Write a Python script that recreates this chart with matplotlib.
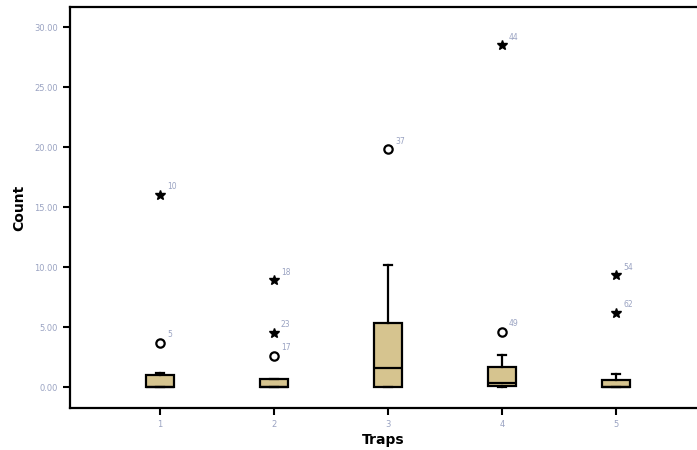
import matplotlib.pyplot as plt

traps = [1, 2, 3, 4, 5]
tick_labels = ["1", "2", "3", "4", "5"]

# box statistics
whis_lo = [0.0, 0.0, 0.0, 0.0, 0.0]
q1 = [0.0, 0.0, 0.0, 0.08, 0.0]
median = [0.0, 0.0, 1.6, 0.33, 0.0]
q3 = [1.0, 0.67, 5.33, 1.67, 0.6]
whis_hi = [1.2, 0.67, 10.2, 2.7, 1.1]

# outliers (circle) and extremes (star) with their case numbers
circle_trap = [1, 2, 3, 4]
circle_val = [3.7, 2.6, 19.8, 4.6]
circle_case = ["5", "17", "37", "49"]

star_trap = [1, 2, 2, 4, 5, 5]
star_val = [16.0, 8.9, 4.5, 28.5, 9.3, 6.2]
star_case = ["10", "18", "23", "44", "54", "62"]

FILL = "#d6c48f"
FAINT = "#9aa3c2"

fig = plt.figure(figsize=(6.97, 4.5), dpi=100)
ax = fig.add_axes([0.1004, 0.0933, 0.8996, 0.8911])

stats = []
for i in range(len(traps)):
    stats.append(dict(whislo=whis_lo[i], q1=q1[i], med=median[i], q3=q3[i], whishi=whis_hi[i], fliers=[]))

ax.bxp(
    stats,
    positions=traps,
    widths=0.25,
    patch_artist=True,
    showfliers=False,
    boxprops=dict(facecolor=FILL, edgecolor="black", linewidth=1.6),
    medianprops=dict(color="black", linewidth=1.6),
    whiskerprops=dict(color="black", linewidth=1.6),
    capprops=dict(color="black", linewidth=1.6),
    capwidths=0.07,
)

ax.plot(circle_trap, circle_val, "o", ms=6, mfc="white", mec="black", mew=1.6, ls="none")
ax.plot(star_trap, star_val, "*", ms=7, color="black", ls="none")

for x, y, s in zip(circle_trap, circle_val, circle_case):
    ax.annotate(s, (x, y), xytext=(5, 4), textcoords="offset points", fontsize=5.5, color=FAINT)
for x, y, s in zip(star_trap, star_val, star_case):
    ax.annotate(s, (x, y), xytext=(5, 4), textcoords="offset points", fontsize=5.5, color=FAINT)

ax.set_xlim(0.21, 5.71)
ax.set_ylim(-1.75, 31.67)
ax.set_xticks(traps)
ax.set_xticklabels(tick_labels)
ax.set_yticks([0, 5, 10, 15, 20, 25, 30])
ax.set_yticklabels(["0.00", "5.00", "10.00", "15.00", "20.00", "25.00", "30.00"])
ax.tick_params(length=5, width=1.5, labelsize=6, labelcolor=FAINT)

for side in ["left", "bottom", "top"]:
    ax.spines[side].set_linewidth(1.6)
ax.spines["right"].set_visible(False)

ax.set_xlabel("Traps", fontsize=10, fontweight="bold", labelpad=3)
ax.set_ylabel("Count", fontsize=10, fontweight="bold", labelpad=6)

fig.savefig("out.png", dpi=100)
